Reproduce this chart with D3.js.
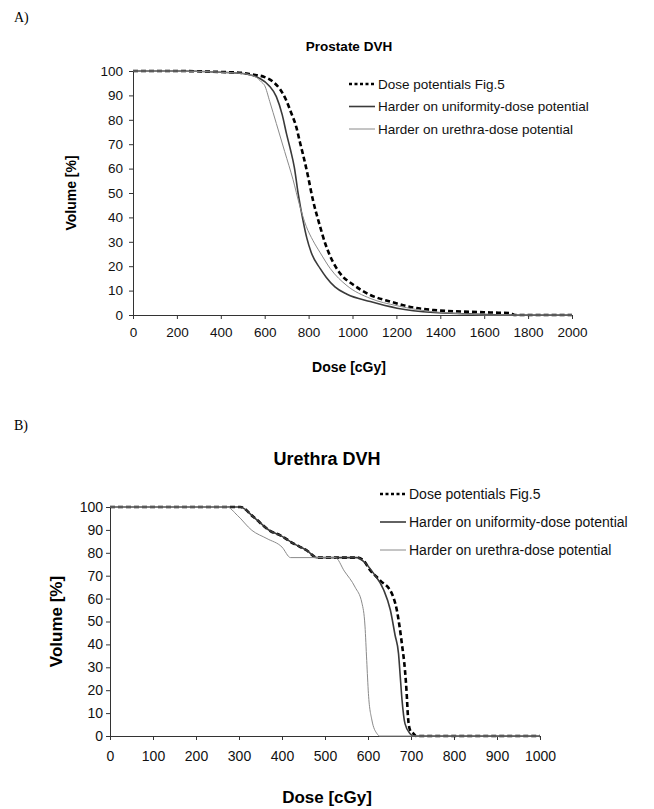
<!DOCTYPE html>
<html>
<head>
<meta charset="utf-8">
<script src="https://cdn.jsdelivr.net/npm/d3@7"></script>
<style>
  html, body { margin: 0; padding: 0; background: #fff; }
  svg { display: block; }
</style>
</head>
<body>
<svg id="chart" width="654" height="809"></svg>
<script>
// ---------- DATA ----------
const seriesNames = ["Dose potentials Fig.5", "Harder on uniformity-dose potential", "Harder on urethra-dose potential"];

// Panel A: Prostate DVH  [dose cGy, volume %]
const prostateFig5 = [[0,100],[200,100],[400,99.6],[500,99.2],[540,98.6],[600,97.5],[638,95.6],[670,92.5],[698,88],[720,83],[744,77],[760,71],[774,66],[797,57],[820,47],[850,37],[875,29.5],[899,24],[944,17],[1005,12.3],[1081,8.2],[1172,5.5],[1263,3.3],[1370,2.0],[1506,1.4],[1643,1.0],[1719,0.8],[1740,0],[2000,0]];
const prostateUniform = [[0,100],[200,100],[400,99.5],[500,99],[577,97],[620,94],[653,89.5],[680,82],[700,74],[718,67.5],[735,60.5],[752,50],[774,39],[792,31.5],[812,25.6],[853,19],[880,15.5],[920,11.5],[975,8.5],[1081,5.5],[1203,2.8],[1370,1],[1520,0.5],[1700,0],[2000,0]];
const prostateUrethra = [[0,100],[200,100],[400,99.5],[500,99],[560,97.5],[585,95.5],[600,94],[623,87.5],[653,78.5],[691,67],[729,55.5],[759,45],[789,36.4],[820,30.5],[853,25.5],[899,19],[975,12],[1081,6.8],[1203,3.8],[1370,1.3],[1500,0.5],[1600,0],[2000,0]];

// Panel B: Urethra DVH
const urethraFig5 = [[0,100],[303,100],[334,95.6],[373,89.5],[396,87.6],[427,84],[458,81],[481,77.9],[575,77.9],[590,76.5],[605,72.4],[628,68],[656,62],[667,55],[679,40],[686,28.7],[690,18.5],[693,8.3],[698,2.5],[706,1],[712,0],[1000,0]];
const urethraUniform = [[0,100],[303,100],[334,95.6],[373,89.5],[396,87.6],[427,84],[458,81],[481,77.9],[575,77.9],[590,76.2],[613,71],[636,64],[652,55],[663,44],[671,36],[675,26],[679,16],[686,5.4],[698,1],[705,0],[1000,0]];
const urethraUrethra = [[0,100],[272,100],[296,96.4],[330,89.8],[365,86.2],[400,82.5],[420,77.9],[524,77.9],[545,72],[570,65],[586,58],[593,48],[597,33],[601,18.5],[609,7],[621,1],[627,0],[1000,0]];

const yTicks = [0,10,20,30,40,50,60,70,80,90,100];
const xTicksA = [0,200,400,600,800,1000,1200,1400,1600,1800,2000];
const xTicksB = [0,100,200,300,400,500,600,700,800,900,1000];

// ---------- DRAWING ----------
const svg = d3.select("#chart");
const FONT = "Liberation Sans, Arial, sans-serif";
const styles = [
  {stroke:"#000", width:2.6, dash:"5,3"},
  {stroke:"#3a3a3a", width:1.6, dash:null},
  {stroke:"#8a8a8a", width:1.0, dash:null}
];

function panel(cfg) {
  const x = d3.scaleLinear().domain([0, cfg.xMax]).range([cfg.left, cfg.right]);
  const y = d3.scaleLinear().domain([0, 100]).range([cfg.bottom, cfg.top]);
  const g = svg.append("g");

  const xAxis = d3.axisBottom(x).tickValues(cfg.xTicks).tickSize(4).tickPadding(cfg.xPad).tickFormat(d3.format("d"));
  const yAxis = d3.axisLeft(y).tickValues(yTicks).tickSize(4).tickPadding(cfg.yPad).tickFormat(d3.format("d"));
  const gx = g.append("g").attr("transform", `translate(0,${cfg.bottom})`).call(xAxis);
  const gy = g.append("g").attr("transform", `translate(${cfg.left},0)`).call(yAxis);
  [gx, gy].forEach(a => {
    a.select(".domain").attr("stroke", "#333").attr("stroke-width", 1);
    a.selectAll(".tick line").attr("stroke", "#333");
    a.selectAll("text").attr("font-family", FONT)
      .attr("font-size", cfg.tickFont).attr("fill", "#111");
  });

  const line = d3.line().x(d => x(d[0])).y(d => y(d[1])).curve(d3.curveMonotoneX);
  cfg.series.forEach((s, i) => {
    g.append("path").datum(s).attr("d", line).attr("fill", "none")
      .attr("stroke", styles[i].stroke).attr("stroke-width", styles[i].width)
      .attr("stroke-dasharray", styles[i].dash).attr("stroke-linejoin", "round");
  });

  g.append("text").attr("x", cfg.titleX).attr("y", cfg.titleY).attr("text-anchor", "middle")
    .attr("font-family", FONT).attr("font-weight", "bold")
    .attr("font-size", cfg.titleFont).text(cfg.title);
  g.append("text").attr("x", cfg.xLabelX).attr("y", cfg.xLabelY).attr("text-anchor", "middle")
    .attr("font-family", FONT).attr("font-weight", "bold")
    .attr("font-size", cfg.labelFont).text("Dose [cGy]");
  g.append("text").attr("transform", `translate(${cfg.yLabelX},${(cfg.top + cfg.bottom) / 2}) rotate(-90)`)
    .attr("text-anchor", "middle")
    .attr("font-family", FONT).attr("font-weight", "bold")
    .attr("font-size", cfg.labelFont).text("Volume [%]");

  seriesNames.forEach((name, i) => {
    const ly = cfg.legY + i * cfg.legStep;
    g.append("line").attr("x1", cfg.legX).attr("x2", cfg.legX + cfg.legLen).attr("y1", ly).attr("y2", ly)
      .attr("stroke", styles[i].stroke).attr("stroke-width", i === 0 ? 2.4 : styles[i].width)
      .attr("stroke-dasharray", i === 0 ? "3,2.5" : null);
    g.append("text").attr("x", cfg.legX + cfg.legLen + 3).attr("y", ly).attr("dy", "0.35em")
      .attr("font-family", FONT).attr("font-size", cfg.legFont)
      .attr("fill", "#111").text(name);
  });

  svg.append("text").attr("x", cfg.letterX).attr("y", cfg.letterY)
    .attr("font-family", "Liberation Serif, Times New Roman, serif").attr("font-size", 14)
    .text(cfg.letter);
}

panel({
  letter: "A)", letterX: 14, letterY: 22,
  title: "Prostate DVH", titleX: 349, titleY: 51, titleFont: 13.5,
  xMax: 2000, xTicks: xTicksA,
  left: 133, right: 572, top: 71, bottom: 315,
  series: [prostateFig5, prostateUniform, prostateUrethra],
  tickFont: 13.5, xPad: 8, yPad: 6, labelFont: 14,
  xLabelX: 349, xLabelY: 372, yLabelX: 76,
  legX: 349, legLen: 26, legY: 84, legStep: 22.5, legFont: 13.5
});

panel({
  letter: "B)", letterX: 14, letterY: 430,
  title: "Urethra DVH", titleX: 327, titleY: 465, titleFont: 18,
  xMax: 1000, xTicks: xTicksB,
  left: 110, right: 540, top: 507, bottom: 736,
  series: [urethraFig5, urethraUniform, urethraUrethra],
  tickFont: 14, xPad: 11, yPad: 3, labelFont: 17,
  xLabelX: 327, xLabelY: 803, yLabelX: 62,
  legX: 380, legLen: 26, legY: 494, legStep: 28, legFont: 14
});
</script>
</body>
</html>
